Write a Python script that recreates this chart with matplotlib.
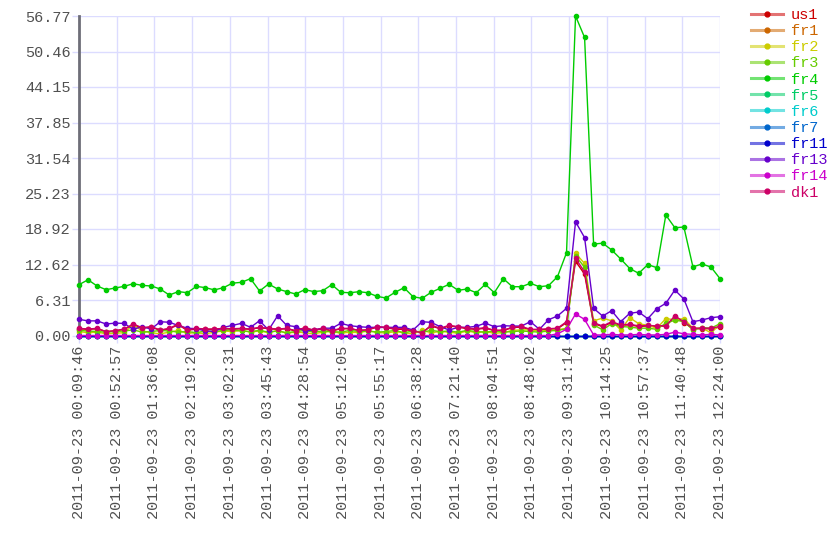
import matplotlib
matplotlib.use('Agg')
import matplotlib.pyplot as plt
import numpy as np
import pandas as pd

# sample times: 72 evenly spaced readings between these two stamps
start = "2011-09-23 00:09:46"
end = "2011-09-23 12:24:00"
n_samples = 72

tick_labels = ["2011-09-23 00:09:46", "2011-09-23 00:52:57", "2011-09-23 01:36:08",
               "2011-09-23 02:19:20", "2011-09-23 03:02:31", "2011-09-23 03:45:43",
               "2011-09-23 04:28:54", "2011-09-23 05:12:05", "2011-09-23 05:55:17",
               "2011-09-23 06:38:28", "2011-09-23 07:21:40", "2011-09-23 08:04:51",
               "2011-09-23 08:48:02", "2011-09-23 09:31:14", "2011-09-23 10:14:25",
               "2011-09-23 10:57:37", "2011-09-23 11:40:48", "2011-09-23 12:24:00"]

names = ["us1", "fr1", "fr2", "fr3", "fr4", "fr5", "fr6", "fr7", "fr11", "fr13", "fr14", "dk1"]
colors = ["#cc0000", "#cc6600", "#cccc00", "#66cc00", "#00cc00", "#00cc66",
          "#00cccc", "#0066cc", "#0000cc", "#6600cc", "#cc00cc", "#cc0066"]

us1 = [1.2, 1.1, 1.2, 0.7, 0.8, 1.1, 1.9, 1.3, 1.5, 0.9, 1.2, 1.9, 0.9, 1.2, 1.1, 1.1,
       1.2, 1.1, 1.2, 1.1, 1.4, 1.2, 1.1, 1.2, 0.8, 1.3, 0.9, 1.2, 0.8, 1.2, 1.2, 0.9,
       1.0, 1.5, 1.4, 1.1, 1.1, 0.8, 0.5, 1.7, 1.2, 1.7, 1.5, 1.2, 1.1, 1.3, 0.9, 0.9,
       1.4, 1.5, 1.0, 1.0, 1.1, 1.2, 2.3, 13.2, 10.9, 2.1, 1.6, 2.3, 1.8, 1.9, 1.6, 1.7,
       1.6, 1.7, 3.3, 2.3, 1.2, 1.2, 1.2, 1.5]
fr1 = [0.0] * 72
fr2 = [0.7, 0.5, 0.6, 0.3, 0.4, 0.5, 1.9, 0.8, 0.5, 0.3, 0.6, 0.9, 0.4, 0.5, 0.3, 0.6,
       0.8, 0.7, 0.9, 0.6, 0.8, 0.5, 0.9, 0.4, 0.6, 0.5, 0.3, 0.6, 0.7, 0.4, 0.6, 0.5,
       0.8, 0.6, 0.4, 0.7, 0.5, 0.3, 0.9, 0.5, 0.7, 0.6, 0.4, 0.8, 0.5, 0.7, 0.4, 0.5,
       0.9, 1.0, 1.0, 0.8, 0.9, 1.0, 1.3, 14.6, 12.8, 2.6, 3.1, 2.6, 1.0, 3.16, 2.1, 1.8,
       1.3, 3.0, 2.8, 3.0, 1.3, 1.3, 0.5, 1.9]
fr3 = [0.9, 0.8, 0.7, 0.6, 0.7, 0.8, 1.0, 0.6, 0.7, 0.9, 0.8, 0.6, 0.7, 0.5, 0.8, 0.7,
       0.9, 1.0, 0.8, 0.7, 0.9, 0.6, 0.8, 0.5, 0.7, 0.9, 0.6, 0.8, 0.7, 0.6, 0.9, 0.7,
       0.8, 0.6, 0.7, 0.9, 0.5, 0.8, 0.6, 0.9, 0.7, 0.8, 0.6, 0.9, 0.7, 0.6, 0.8, 0.6,
       0.7, 0.8, 0.7, 0.6, 0.8, 0.9, 1.2, 14.2, 12.1, 1.9, 1.0, 2.1, 1.6, 1.5, 1.3, 1.3,
       1.1, 2.2, 2.7, 2.5, 1.0, 1.4, 1.3, 2.1]
fr4 = [9.03, 9.9, 8.8, 8.14, 8.44, 8.73, 9.2, 8.9, 8.8, 8.26, 7.19, 7.8, 7.6, 8.73, 8.5, 8.1,
       8.5, 9.3, 9.45, 10.1, 7.9, 9.15, 8.26, 7.8, 7.37, 8.14, 7.8, 7.96, 9.03, 7.67, 7.6, 7.78,
       7.6, 6.96, 6.66, 7.67, 8.49, 6.89, 6.6, 7.67, 8.38, 9.09, 8.03, 8.26, 7.6, 9.09, 7.6, 10.1,
       8.67, 8.67, 9.27, 8.67, 8.85, 10.45, 14.7, 56.77, 52.96, 16.25, 16.4, 15.2, 13.6, 11.9, 11.05, 12.6,
       12.05, 21.4, 19.15, 19.27, 12.2, 12.7, 12.17, 10.1]
fr5 = [0.0] * 72
fr6 = [0.0] * 72
fr7 = [0.0] * 72
fr11 = [0.0] * 72
fr13 = [2.87, 2.6, 2.6, 2.04, 2.2, 2.15, 1.1, 1.57, 1.15, 2.45, 2.35, 1.78, 1.3, 1.2, 0.8, 0.74,
        1.45, 1.8, 2.16, 1.45, 2.63, 0.98, 3.5, 1.8, 1.57, 0.8, 1.0, 1.3, 1.3, 2.16, 1.74, 1.57,
        1.45, 1.45, 1.45, 1.45, 1.45, 0.98, 2.45, 2.33, 1.57, 0.98, 1.45, 1.45, 1.63, 2.2, 1.57, 1.74,
        1.68, 1.68, 2.45, 1.1, 2.8, 3.46, 4.83, 20.2, 17.4, 4.83, 3.46, 4.4, 2.45, 3.94, 4.17, 2.98,
        4.76, 5.72, 8.08, 6.48, 2.45, 2.75, 3.16, 3.34]
fr14 = [0.0] * 53 + [0.3, 1.1, 3.82, 2.87, 0.1, 0.1, 0.2, 0.1, 0.1, 0.2, 0.1, 0.1, 0.2, 0.6,
                     0.3, 0.2, 0.1, 0.2, 0.1]
dk1 = [1.27, 1.15, 1.27, 0.68, 0.86, 1.15, 2.04, 1.39, 1.57, 0.98, 1.27, 2.04, 0.98, 1.27, 1.15, 1.15,
       1.27, 1.2, 1.27, 1.15, 1.45, 1.27, 1.15, 1.27, 0.86, 1.39, 0.98, 1.27, 0.86, 1.27, 1.27, 0.9,
       1.0, 1.57, 1.45, 1.2, 1.2, 0.8, 0.5, 1.8, 1.3, 1.8, 1.57, 1.3, 1.2, 1.4, 0.9, 0.95,
       1.45, 1.6, 1.1, 1.1, 1.2, 1.3, 2.45, 13.7, 11.3, 2.27, 1.69, 2.45, 1.9, 2.0, 1.7, 1.8,
       1.7, 1.75, 3.46, 2.45, 1.3, 1.3, 1.3, 1.6]

series = [us1, fr1, fr2, fr3, fr4, fr5, fr6, fr7, fr11, fr13, fr14, dk1]

times = pd.date_range(start, end, periods=n_samples)
x = (times - times[0]).total_seconds()
tick_pos = (pd.to_datetime(tick_labels) - times[0]).total_seconds()

ymax = max(max(s) for s in series)
yticks = np.linspace(0, ymax, 10)

font = 'Liberation Mono'
txt_col = '#505050'
fig = plt.figure(figsize=(8.4, 5.6), dpi=100)
ax = fig.add_axes([79 / 840, 1 - 335.5 / 560, (720 - 79) / 840, (335.5 - 16) / 560])

for name, col, vals in zip(names, colors, series):
    ax.plot(x, vals, color=col, lw=1, marker='o', ms=3, mfc=col, mec=col,
            clip_on=False, zorder=3)

ax.set_xlim(x[0], x[-1])
ax.set_ylim(0, ymax)
ax.set_xticks(tick_pos)
ax.set_xticklabels(tick_labels, rotation=90, fontfamily=font, fontsize=11, color=txt_col)
ax.set_yticks(yticks)
ax.set_yticklabels(['%.2f' % v for v in yticks], fontfamily=font, fontsize=11, color=txt_col)
ax.grid(True, color='#dcdcff', lw=1)
ax.set_axisbelow(True)
ax.tick_params(axis='both', color='#dcdcff', length=5, width=1)
ax.tick_params(axis='y', pad=0.8)
ax.tick_params(axis='x', pad=2)
for s in ['top', 'right', 'bottom']:
    ax.spines[s].set_visible(False)
ax.spines['left'].set_color('#6e6e78')
ax.spines['left'].set_linewidth(2)

handles = []
for col in colors:
    ln = plt.Line2D([], [], color=col, lw=2.2, alpha=0.55)
    mk = plt.Line2D([], [], color=col, ls='none', marker='o', ms=3.5)
    handles.append((ln, mk))
fig.legend(handles, names, loc='upper left', bbox_to_anchor=(751 / 840, 1 - 8 / 560),
           frameon=False, prop={'family': font, 'size': 11}, handlelength=2.1,
           handletextpad=0.5, labelspacing=0.14, borderaxespad=0, borderpad=0,
           labelcolor=colors)

fig.savefig('out.png', dpi=100)
